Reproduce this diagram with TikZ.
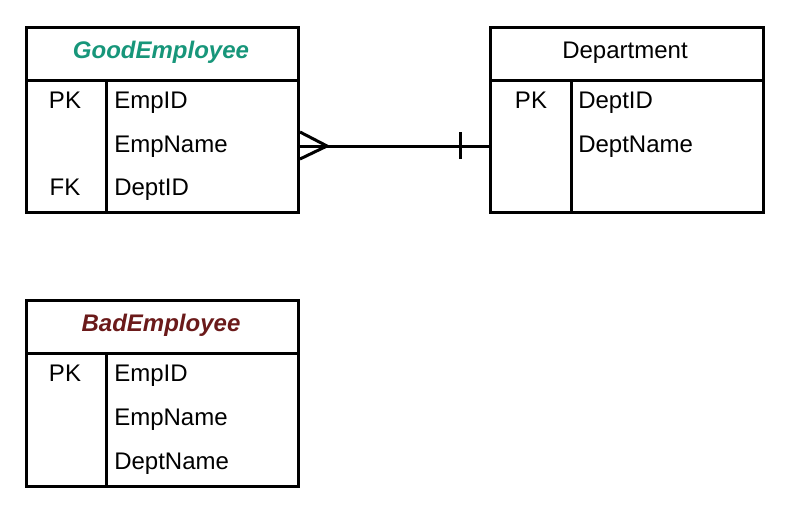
\documentclass[tikz,border=0pt]{standalone}
\usepackage{fontspec}
\setmainfont{Liberation Sans}
\definecolor{goodc}{HTML}{17967A}
\definecolor{badc}{HTML}{6B1A1A}
\tikzset{
  ent/.style={draw=black, line width=3pt*0.75, minimum width=272*0.75pt, minimum height=185*0.75pt, inner sep=0pt, anchor=north west},
  keytxt/.style={font=\fontsize{18}{21}\selectfont, anchor=base, inner sep=0pt},
  fldtxt/.style={font=\fontsize{18}{21}\selectfont, anchor=base west, inner sep=0pt},
  ttl/.style={font=\fontsize{18}{21}\selectfont, anchor=base, inner sep=0pt},
  sep/.style={line width=3pt*0.75},
  rel/.style={line width=3pt*0.75}
}
\begin{document}
\begin{tikzpicture}[x=0.75pt, y=-0.75pt]
\useasboundingbox (0,0) rectangle (811,522);
% GoodEmployee
\node[ent] (ge) at (25,26) {};
\draw[sep] (25,80) -- (297,80);
\draw[sep] (106,80) -- (106,211);
\node[ttl, text=goodc] (get) at (161,58) {\textbf{\textit{GoodEmployee}}};
\node[keytxt] (gek1) at (65,108) {PK};
\node[fldtxt] (gef1) at (114,108) {EmpID};
\node[fldtxt] (gef2) at (114,152) {EmpName};
\node[keytxt] (gek3) at (65,195) {FK};
\node[fldtxt] (gef3) at (114,195) {DeptID};
% Department
\node[ent, minimum width=273*0.75pt] (de) at (489,26) {};
\draw[sep] (489,80) -- (762,80);
\draw[sep] (571,80) -- (571,211);
\node[ttl] (det) at (625,58) {Department};
\node[keytxt] (dek1) at (531,108) {PK};
\node[fldtxt] (def1) at (578,108) {DeptID};
\node[fldtxt] (def2) at (578,152) {DeptName};
% BadEmployee
\node[ent, minimum height=186*0.75pt] (be) at (25,299) {};
\draw[sep] (25,353) -- (297,353);
\draw[sep] (106,353) -- (106,485);
\node[ttl, text=badc] (bet) at (161,331) {\textbf{\textit{BadEmployee}}};
\node[keytxt] (bek1) at (65,381) {PK};
\node[fldtxt] (bef1) at (114,381) {EmpID};
\node[fldtxt] (bef2) at (114,425) {EmpName};
\node[fldtxt] (bef3) at (114,469) {DeptName};
% relationship
\coordinate (ra) at (ge.east |- 0,146);
\coordinate (rb) at (de.west |- 0,146);
\draw[rel] (ra) -- (rb);
\draw[rel] ([yshift=-13*0.75pt]ra) -- ([xshift=27*0.75pt]ra) -- ([yshift=14*0.75pt]ra);
\draw[rel] ([xshift=-29*0.75pt,yshift=-13*0.75pt]rb) -- ([xshift=-29*0.75pt,yshift=14*0.75pt]rb);
\end{tikzpicture}
\end{document}
